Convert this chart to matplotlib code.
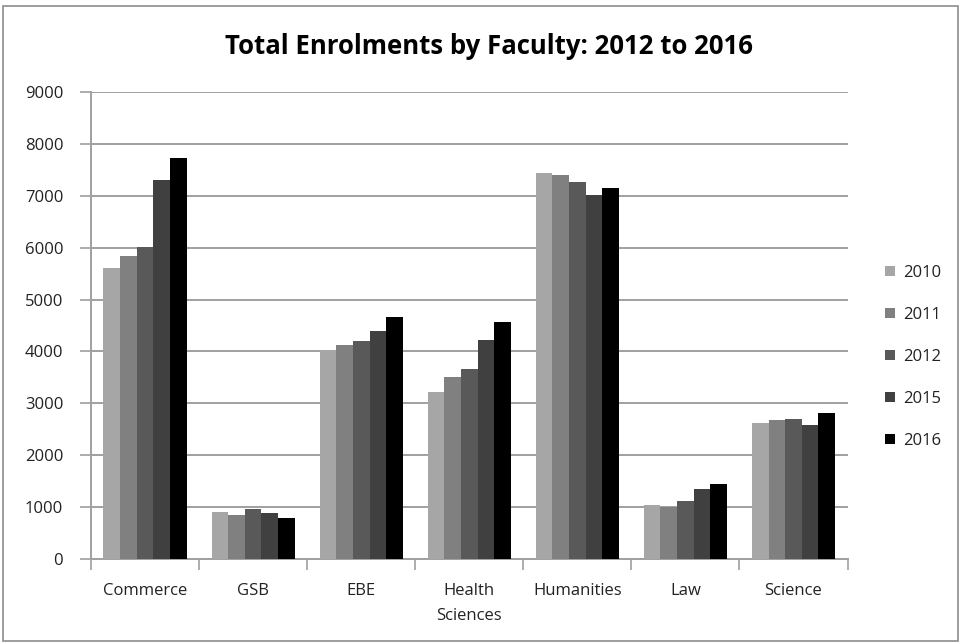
import numpy as np
import matplotlib
matplotlib.use("Agg")
import matplotlib.pyplot as plt
from matplotlib.patches import Rectangle

plt.rcParams['font.family'] = ['Open Sans', 'DejaVu Sans']

faculties = ["Commerce", "GSB", "EBE", "Health\nSciences", "Humanities", "Law", "Science"]
years = ["2010", "2011", "2012", "2015", "2016"]

enrol_2010 = [5600, 910, 4030, 3210, 7440, 1050, 2630]
enrol_2011 = [5840, 845, 4125, 3515, 7400, 1010, 2670]
enrol_2012 = [6010, 970, 4195, 3655, 7265, 1120, 2705]
enrol_2015 = [7300, 880, 4395, 4220, 7020, 1350, 2575]
enrol_2016 = [7730, 785, 4660, 4560, 7160, 1455, 2805]

series = [enrol_2010, enrol_2011, enrol_2012, enrol_2015, enrol_2016]
colors = ["#a6a6a6", "#808080", "#595959", "#404040", "#000000"]

fig = plt.figure(figsize=(9.62, 6.44), dpi=100)
ax = fig.add_axes([0.0946, 0.132, 0.7864, 0.725])

x = np.arange(len(faculties))
w = 0.154
for i, (vals, c) in enumerate(zip(series, colors)):
    ax.bar(x + (i - 2) * w, vals, width=w, color=c, label=years[i], zorder=3)

ax.set_xlim(-0.5, len(faculties) - 0.5)
ax.set_ylim(0, 9000)
ax.set_yticks(np.arange(0, 9001, 1000))
ax.yaxis.grid(True, color="#a0a0a0", linewidth=1.4, zorder=0)

ax.set_xticks(np.arange(-0.5, len(faculties), 1.0), minor=False)
ax.set_xticklabels([])
ax.set_xticks(x, minor=True)
ax.set_xticklabels(faculties, minor=True, fontsize=12, linespacing=1.75, color="#222222")
ax.tick_params(axis="x", which="minor", length=0, pad=17)
ax.tick_params(axis="x", which="major", length=8, color="#a0a0a0", width=1.2)
ax.tick_params(axis="y", length=8, color="#a0a0a0", width=1.2, labelsize=12, pad=12,
               labelcolor="#222222")

for s in ["top", "right"]:
    ax.spines[s].set_visible(False)
ax.spines["left"].set_color("#a0a0a0")
ax.spines["bottom"].set_color("#a0a0a0")
ax.spines["left"].set_linewidth(1.4)
ax.spines["bottom"].set_linewidth(1.4)

leg = ax.legend(loc="center left", bbox_to_anchor=(1.03, 0.433), frameon=False,
                fontsize=12, handlelength=0.6, handleheight=0.6,
                labelspacing=1.56, handletextpad=0.5)
for t in leg.get_texts():
    t.set_color("#222222")

fig.text(0.508, 0.928, "Total Enrolments by Faculty: 2012 to 2016",
         ha="center", va="center", fontsize=18.5, fontweight="bold")

fig.patches.append(Rectangle((0.003, 0.004), 0.993, 0.986, transform=fig.transFigure,
                             fill=False, edgecolor="#8c8c8c", linewidth=1.2))

fig.savefig("out.png", dpi=100)
